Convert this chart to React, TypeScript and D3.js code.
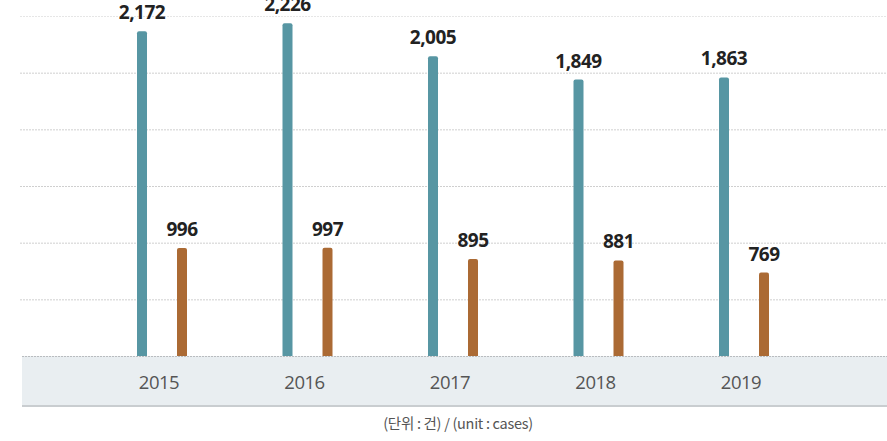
import React, { useRef, useEffect } from "react";
import * as d3 from "d3";

const years = ["2015", "2016", "2017", "2018", "2019"];
const seriesA = [2172, 2226, 2005, 1849, 1863];
const seriesB = [996, 997, 895, 881, 769];
const unitLabel = "(단위 : 건) / (unit : cases)";

const W = 887;
const H = 441;

const App = () => {
  const ref = useRef<SVGSVGElement>(null);

  useEffect(() => {
    document.body.style.margin = "0";
    const svg = d3.select(ref.current);
    svg.selectAll("*").remove();

    const baseY = 356;
    const topY = 16;
    const bandBottom = 406;

    const x = d3.scalePoint().domain(years).range([162, 744]);
    const yA = d3.scaleLinear().domain([0, 2274]).range([baseY, topY]);
    const yB = d3.scaleLinear().domain([0, 3134]).range([baseY, topY]);
    const grid = d3.scaleLinear().domain([0, 6]).range([baseY, topY]);

    // bottom band
    svg
      .append("rect")
      .attr("x", 22)
      .attr("y", baseY)
      .attr("width", W - 22)
      .attr("height", bandBottom - baseY)
      .attr("fill", "#e9eef1");
    svg
      .append("line")
      .attr("x1", 22)
      .attr("x2", W)
      .attr("y1", bandBottom)
      .attr("y2", bandBottom)
      .attr("stroke", "#c9cdd0")
      .attr("stroke-width", 2);

    // gridlines
    svg
      .append("g")
      .selectAll("line")
      .data(d3.range(1, 7))
      .join("line")
      .attr("x1", 20)
      .attr("x2", W)
      .attr("y1", (d) => grid(d) + 0.5)
      .attr("y2", (d) => grid(d) + 0.5)
      .attr("stroke", (d) => (d === 6 ? "#e6e6e6" : "#cfcfcf"))
      .attr("stroke-width", 1)
      .attr("stroke-dasharray", "2 1");

    svg
      .append("line")
      .attr("x1", 22)
      .attr("x2", W)
      .attr("y1", baseY + 0.5)
      .attr("y2", baseY + 0.5)
      .attr("stroke", "#b9bcbf")
      .attr("stroke-dasharray", "2 1");

    const bw = 10;
    const r = 2;
    const barPath = (cx: number, top: number) => {
      const p = d3.path();
      p.moveTo(cx - bw / 2, baseY);
      p.lineTo(cx - bw / 2, top + r);
      p.quadraticCurveTo(cx - bw / 2, top, cx - bw / 2 + r, top);
      p.lineTo(cx + bw / 2 - r, top);
      p.quadraticCurveTo(cx + bw / 2, top, cx + bw / 2, top + r);
      p.lineTo(cx + bw / 2, baseY);
      p.closePath();
      return p.toString();
    };

    const font = "'Open Sans', 'Noto Sans', sans-serif";
    const fmt = d3.format(",");

    const series = [
      { values: seriesA, y: yA, color: "#5796a3", dx: -20 },
      { values: seriesB, y: yB, color: "#ab6a34", dx: 20 },
    ];

    series.forEach((s) => {
      const g = svg.append("g");
      g.selectAll("path")
        .data(s.values)
        .join("path")
        .attr("d", (d, i) => barPath(x(years[i])! + s.dx, s.y(d)))
        .attr("fill", s.color);
      g.selectAll("text")
        .data(s.values)
        .join("text")
        .attr("x", (d, i) => x(years[i])! + s.dx)
        .attr("y", (d) => s.y(d) - 12)
        .attr("text-anchor", "middle")
        .attr("font-family", font)
        .attr("font-weight", 700)
        .attr("font-size", 19)
        .attr("letter-spacing", -0.5)
        .attr("fill", "#222")
        .text((d) => fmt(d));
    });

    svg
      .append("g")
      .selectAll("text")
      .data(years)
      .join("text")
      .attr("x", (d) => x(d)! - 3)
      .attr("y", 389)
      .attr("text-anchor", "middle")
      .attr("font-family", font)
      .attr("font-size", 18.5)
      .attr("letter-spacing", -0.5)
      .attr("fill", "#555")
      .text((d) => d);

    svg
      .append("text")
      .attr("x", 458)
      .attr("y", 429)
      .attr("text-anchor", "middle")
      .attr("font-family", "'Noto Sans CJK KR', 'Noto Sans', sans-serif")
      .attr("font-size", 14.5)
      .attr("letter-spacing", -0.3)
      .attr("fill", "#555")
      .text(unitLabel);
  }, []);

  return <svg ref={ref} width={W} height={H} style={{ display: "block" }} />;
};

export default App;
